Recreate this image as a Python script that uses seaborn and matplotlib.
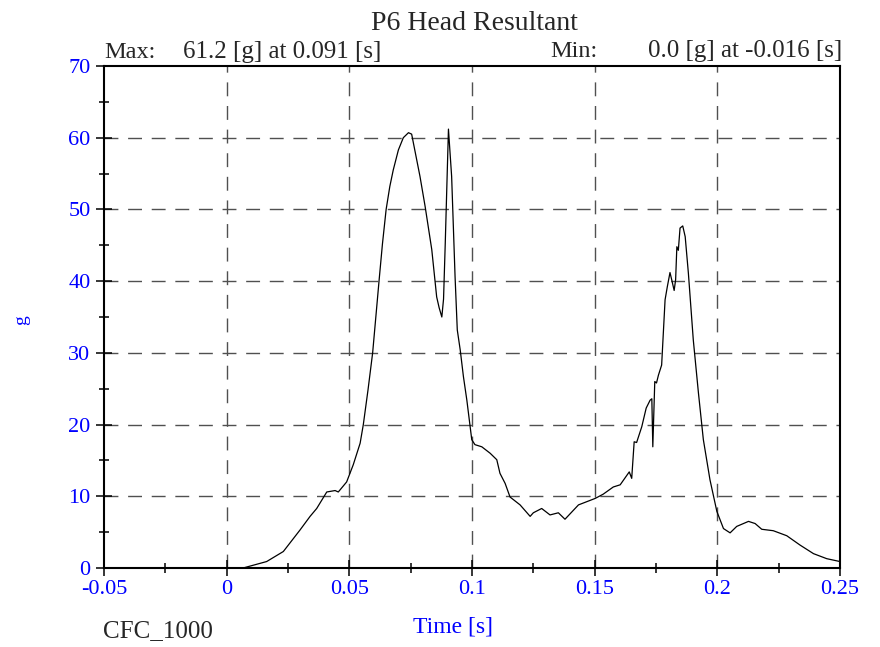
import numpy as np
import pandas as pd
import matplotlib
matplotlib.use("Agg")
import matplotlib.pyplot as plt
import seaborn as sns
from matplotlib.ticker import MultipleLocator

time_s = [-0.05, -0.02, 0.0, 0.0067, 0.0163, 0.0231, 0.0299, 0.034, 0.0367, 0.0408,
          0.0442, 0.0455, 0.0489, 0.0516, 0.0544, 0.0557, 0.0576, 0.0595, 0.0608,
          0.0621, 0.0635, 0.0650, 0.0665, 0.0679, 0.0700, 0.0720, 0.0741, 0.0754,
          0.0788, 0.0809, 0.0836, 0.0856, 0.0866, 0.0877, 0.0884, 0.0891, 0.0904,
          0.0917, 0.0931, 0.0940, 0.0952, 0.0965, 0.0979,
          0.0999, 0.1012, 0.1040, 0.1074, 0.1101, 0.1114, 0.1135, 0.1155, 0.1196,
          0.1237, 0.1250, 0.1284, 0.1318, 0.1352, 0.1379, 0.1434, 0.1502, 0.1535,
          0.1576, 0.1604, 0.1641, 0.1651, 0.1661, 0.1671, 0.1692, 0.1710, 0.1726,
          0.1733, 0.1737, 0.1745, 0.1752, 0.1760, 0.1773, 0.1787, 0.1796, 0.1807,
          0.1814, 0.1824, 0.1830, 0.1835, 0.1841, 0.1848, 0.1859, 0.1869, 0.1882,
          0.1902, 0.1923, 0.1943, 0.1970, 0.1998, 0.2025, 0.2052, 0.2079, 0.2127,
          0.2154, 0.2181, 0.2228, 0.2283, 0.2337, 0.2392, 0.2446, 0.2500]
accel_g = [0.0, 0.0, 0.0, 0.0, 0.9, 2.3, 5.3, 7.2, 8.3, 10.6,
           10.8, 10.6, 12.0, 14.4, 17.4, 20.0, 24.8, 30.0, 35.0,
           40.0, 45.2, 50.0, 53.2, 55.5, 58.3, 60.0, 60.7, 60.5,
           54.6, 50.4, 44.4, 37.8, 36.3, 35.0, 37.5, 45.3, 61.2,
           54.6, 40.6, 33.2, 30.4, 26.7, 23.4,
           17.9, 17.2, 16.9, 16.0, 15.1, 13.2, 11.8, 9.9, 8.8,
           7.2, 7.7, 8.3, 7.4, 7.7, 6.8, 8.8, 9.7, 10.3,
           11.3, 11.6, 13.4, 12.5, 17.6, 17.5, 19.7, 22.3, 23.4,
           23.6, 16.9, 26.0, 25.8, 26.9, 28.3, 37.4, 39.2, 41.2,
           40.2, 38.7, 40.2, 44.8, 44.3, 47.4, 47.7, 46.2, 41.1,
           31.8, 24.4, 17.9, 12.3, 7.9, 5.5, 4.9, 5.8, 6.5,
           6.2, 5.4, 5.2, 4.5, 3.2, 2.0, 1.3, 0.9]

x_ticks = [-0.05, 0, 0.05, 0.1, 0.15, 0.2, 0.25]
x_tick_labels = ["-0.05", "0", "0.05", "0.1", "0.15", "0.2", "0.25"]
y_ticks = [0, 10, 20, 30, 40, 50, 60, 70]

df = pd.DataFrame({"t": time_s, "g": accel_g})

sns.set_style("white")
plt.rcParams["font.family"] = ["Liberation Serif", "DejaVu Serif"]

W, H = 880, 647
fig = plt.figure(figsize=(8.8, 6.47), dpi=100)
ax = fig.add_axes([104/W, 1 - 568/H, (840 - 104)/W, (568 - 66)/H])

sns.lineplot(data=df, x="t", y="g", ax=ax, color="black", linewidth=0.9)

ax.set_xlim(-0.05, 0.25)
ax.set_ylim(0, 70)
ax.set_xticks(x_ticks)
ax.set_xticklabels(x_tick_labels)
ax.set_yticks(y_ticks)
ax.xaxis.set_minor_locator(MultipleLocator(0.025))
ax.yaxis.set_minor_locator(MultipleLocator(5))

for v in [0, 0.05, 0.1, 0.15, 0.2]:
    ax.axvline(v, color="#505050", linestyle=(0, (10, 7)), linewidth=1.0, zorder=0)
for v in [10, 20, 30, 40, 50, 60]:
    ax.axhline(v, color="#505050", linestyle=(0, (10, 7)), linewidth=1.0, zorder=0)

ax.tick_params(left=True, bottom=True, top=False, right=False, which="both")
ax.tick_params(axis="both", which="major", direction="inout", length=11.5, width=1.1,
               colors="black", labelcolor="blue", labelsize=16)
ax.tick_params(axis="both", which="minor", direction="inout", length=7.2, width=1.1,
               colors="black")
ax.tick_params(axis="x", which="major", pad=3)
ax.tick_params(axis="y", which="major", pad=4)

for s in ax.spines.values():
    s.set_color("black")
    s.set_linewidth(1.5)

ax.set_xlabel("")
ax.set_ylabel("g", color="blue", fontsize=14)
ax.yaxis.set_label_coords((30 - 104)/736, (568 - 320)/502)

fig.text(474/W, 1 - 30/H, "P6 Head Resultant", ha="center", va="baseline", fontsize=20)
fig.text(104/W, 1 - 58/H, "Max:", ha="left", va="baseline", fontsize=17.5)
fig.text(183/W, 1 - 58/H, "61.2 [g] at 0.091 [s]", ha="left", va="baseline", fontsize=18)
fig.text(550/W, 1 - 57/H, "Min:", ha="left", va="baseline", fontsize=17.5)
fig.text(842/W, 1 - 57/H, "0.0 [g] at -0.016 [s]", ha="right", va="baseline", fontsize=18)
fig.text(453/W, 1 - 633/H, "Time [s]", ha="center", va="baseline", fontsize=17, color="blue")
fig.text(103/W, 1 - 637/H, "CFC_1000", ha="left", va="baseline", fontsize=18)

fig.savefig("out.png", dpi=100)
